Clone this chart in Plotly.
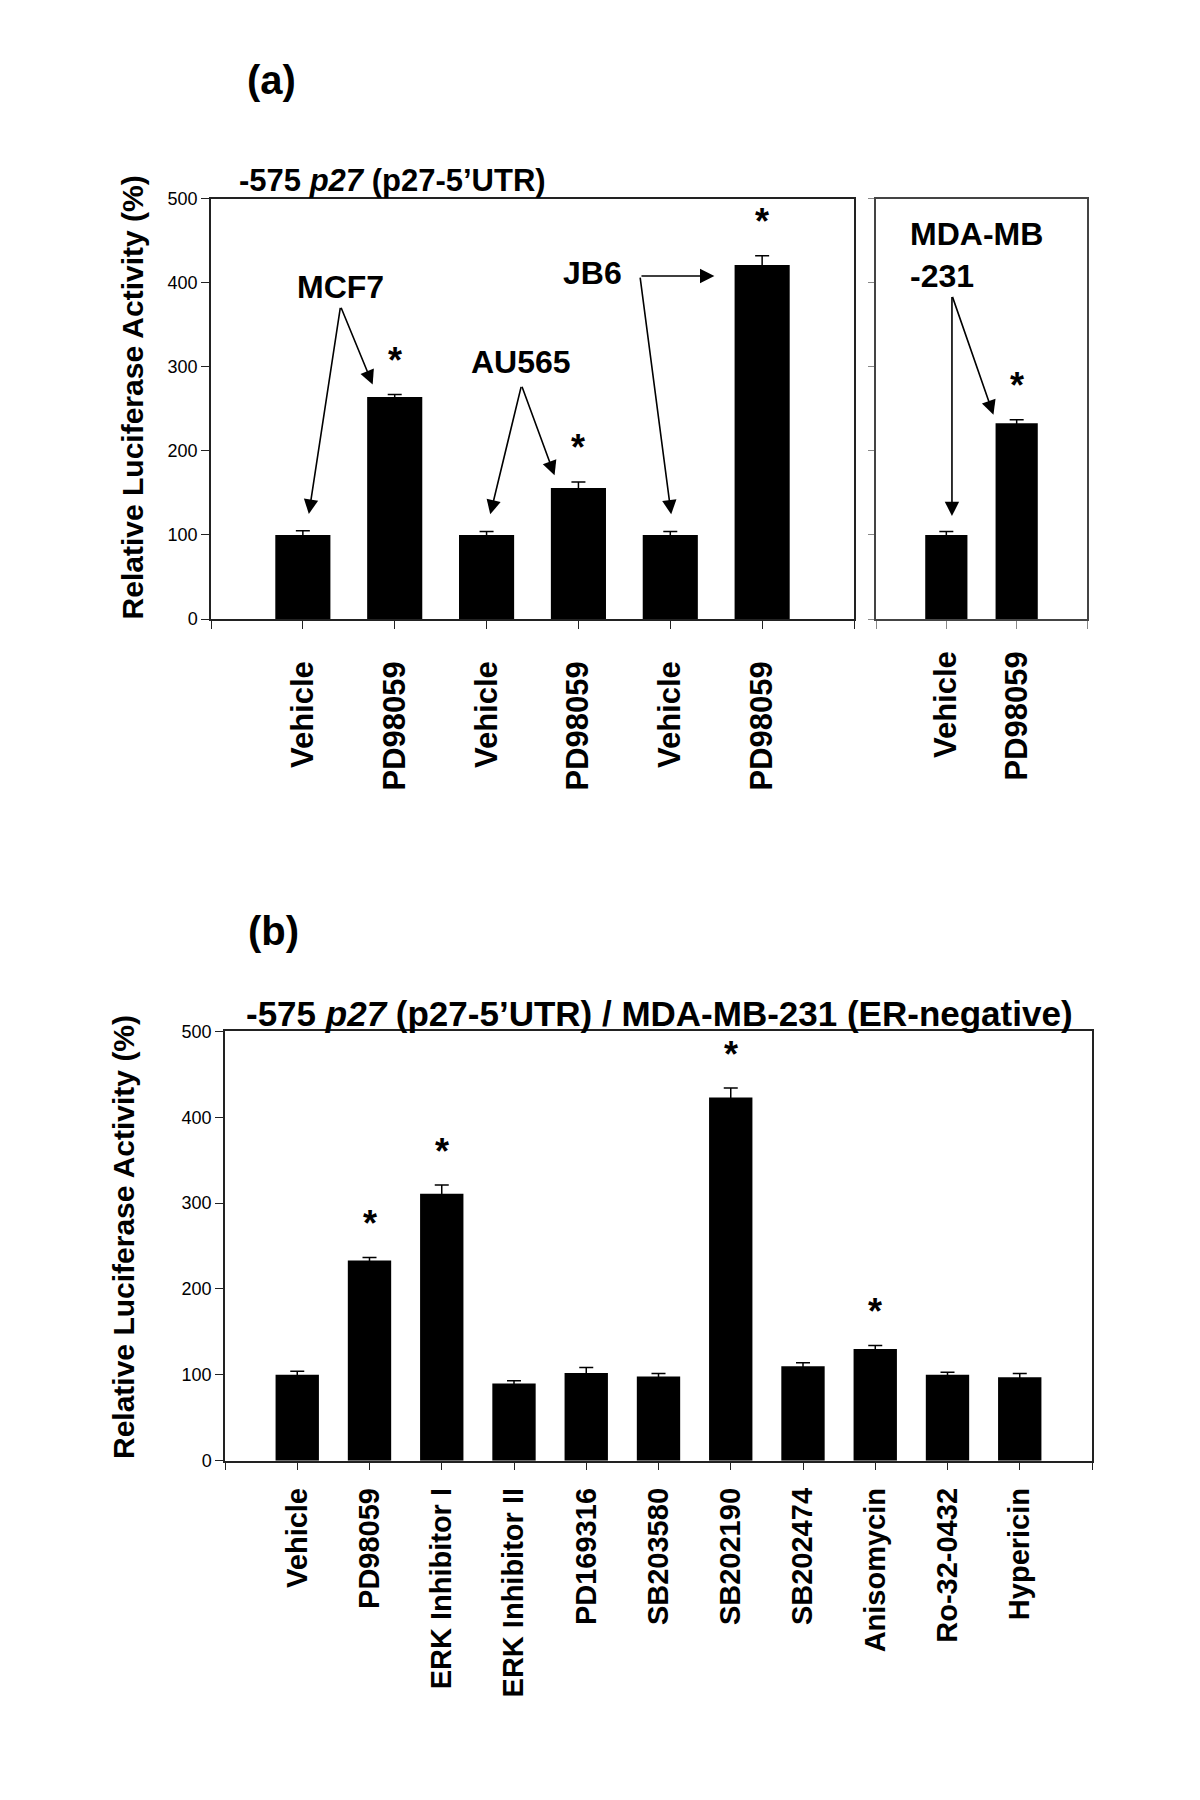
import plotly.graph_objects as go

FONT = "Liberation Sans, Arial, sans-serif"

# panel (a) - p27-5'UTR in several cell lines
a_labels = ["Vehicle", "PD98059", "Vehicle", "PD98059", "Vehicle", "PD98059"]
a_values = [100, 264, 100, 156, 100, 421]
a_err = [5, 3, 4, 7, 4, 11]
a_sig = [False, True, False, True, False, True]

# panel (a) right - MDA-MB-231
mda_labels = ["Vehicle", "PD98059"]
mda_values = [100, 233]
mda_err = [4, 4]
mda_sig = [False, True]

# panel (b) - MDA-MB-231 with inhibitors
b_labels = ["Vehicle", "PD98059", "ERK Inhibitor I", "ERK Inhibitor II", "PD169316",
            "SB203580", "SB202190", "SB202474", "Anisomycin", "Ro-32-0432", "Hypericin"]
b_values = [100, 233, 311, 90, 102, 98, 423, 110, 130, 100, 97]
b_err = [4, 3.5, 10, 3, 6.5, 3.5, 11, 4, 4, 3, 4.5]
b_sig = [False, True, True, False, False, False, True, False, True, False, False]

y_ticks = [0, 100, 200, 300, 400, 500]


# page pixel -> paper fraction (compensates the page offset seen in the screenshot)
def px(p):
    return (p - 8) / 1200


def py(p):
    return 1 - ((p - 16) / 0.9905) / 1800


fig = go.Figure()


def add_bars(labels, values, err, xa, ya):
    xs = list(range(1, len(labels) + 1))
    fig.add_trace(go.Bar(x=xs, y=values, width=0.6, marker=dict(color="black", line=dict(width=0)),
                         error_y=dict(type="data", array=err, visible=True, color="black",
                                      thickness=1.5, width=7),
                         xaxis=xa, yaxis=ya, showlegend=False))
    return xs


def add_stars(xs, values, err, sig, xa, ya):
    for x, v, e, s in zip(xs, values, err, sig):
        if s:
            fig.add_annotation(x=x, y=v + e, xref=xa, yref=ya, text="<b>*</b>", showarrow=False,
                               yanchor="middle", yshift=34, font=dict(size=36, color="black"))


xa1 = add_bars(a_labels, a_values, a_err, "x", "y")
xa2 = add_bars(mda_labels, mda_values, mda_err, "x2", "y2")
xb = add_bars(b_labels, b_values, b_err, "x3", "y3")
add_stars(xa1, a_values, a_err, a_sig, "x", "y")
add_stars(xa2, mda_values, mda_err, mda_sig, "x2", "y2")
add_stars(xb, b_values, b_err, b_sig, "x3", "y3")

axis_line = dict(showline=True, linecolor="#222", linewidth=1.5, mirror=True,
                 ticks="outside", tickcolor="#222", showgrid=False, zeroline=False)


def xaxis_cfg(domain, labels, size, standoff):
    n = len(labels)
    return dict(domain=domain, range=[0, n + 1], tickvals=list(range(0, n + 2)),
                ticktext=[""] + labels + [""], tickangle=-90, ticklen=8,
                ticklabelstandoff=standoff,
                tickfont=dict(family=FONT, size=size, color="black", weight="bold"), **axis_line)


def yaxis_cfg(domain, anchor, show_labels, size):
    return dict(domain=domain, anchor=anchor, range=[0, 500], tickvals=y_ticks,
                showticklabels=show_labels, ticklen=8,
                tickfont=dict(family=FONT, size=size, color="black"), **axis_line)


fig.update_layout(
    width=1200, height=1800, margin=dict(l=0, r=0, t=0, b=0),
    paper_bgcolor="white", plot_bgcolor="white", font=dict(family=FONT, color="black"),
    xaxis=dict(anchor="y", **xaxis_cfg([px(211), px(854)], a_labels, 31, 20)),
    yaxis=yaxis_cfg([py(618), py(197)], "x", True, 18),
    xaxis2=dict(anchor="y2", **xaxis_cfg([px(876), px(1087)], mda_labels, 31, 10)),
    yaxis2=yaxis_cfg([py(618), py(197)], "x2", False, 18),
    xaxis3=dict(anchor="y3", **xaxis_cfg([px(225), px(1092)], b_labels, 29, 6)),
    yaxis3=yaxis_cfg([py(1461), py(1031)], "x3", True, 18),
)
fig.update_layout(yaxis2=dict(tickcolor="#888", ticklen=6, linecolor="#444"),
                  xaxis2=dict(tickcolor="#888", linecolor="#444"))

bold = dict(family=FONT, color="black", weight="bold")


def paper_text(xp, yp, text, size, xanchor="center", angle=0):
    fig.add_annotation(x=px(xp), y=py(yp), xref="paper", yref="paper", text=text,
                       xanchor=xanchor, yanchor="middle", textangle=angle, showarrow=False,
                       font=dict(size=size, **bold))


# panel letters, titles, axis titles
paper_text(271, 78, "(a)", 40)
paper_text(273, 930, "(b)", 40)
paper_text(237, 179, "-575 <i>p27</i> (p27-5’UTR)", 31, xanchor="left")
paper_text(244, 1013, "-575 <i>p27</i> (p27-5’UTR) / MDA-MB-231 (ER-negative)", 35, xanchor="left")
paper_text(132, 396, "Relative Luciferase Activity (%)", 30, angle=-90)
paper_text(123, 1237, "Relative Luciferase Activity (%)", 30, angle=-90)

# cell-line labels with arrows
label_font = dict(size=32, **bold)
fig.add_annotation(x=1.41, y=395, xref="x", yref="y", text="MCF7", showarrow=False, font=label_font)
fig.add_annotation(x=3.38, y=306, xref="x", yref="y", text="AU565", showarrow=False, font=label_font)
fig.add_annotation(x=4.5, y=412, xref="x", yref="y", text="JB6", xanchor="right",
                   showarrow=False, font=label_font)
fig.add_annotation(x=0.45, y=433, xref="x2", yref="y2", text="MDA-MB<br>-231", xanchor="left",
                   align="left", showarrow=False, font=label_font)

arrows = [
    ("x", "y", 1.41, 372, 1.065, 125),
    ("x", "y", 1.41, 372, 1.76, 279),
    ("x", "y", 3.38, 278, 3.04, 124.5),
    ("x", "y", 3.38, 278, 3.74, 171),
    ("x", "y", 4.67, 408, 5.48, 408),
    ("x", "y", 4.67, 408, 5.01, 124.5),
    ("x2", "y2", 1.08, 385, 1.08, 122.5),
    ("x2", "y2", 1.08, 385, 1.67, 243),
]
for xr, yr, x0, y0, x1, y1 in arrows:
    fig.add_annotation(x=x1, y=y1, ax=x0, ay=y0, xref=xr, yref=yr, axref=xr, ayref=yr,
                       text="", showarrow=True, arrowhead=2, arrowsize=1.8, arrowwidth=1.6,
                       arrowcolor="black", standoff=0, startstandoff=0)

fig.write_html("out.html")
